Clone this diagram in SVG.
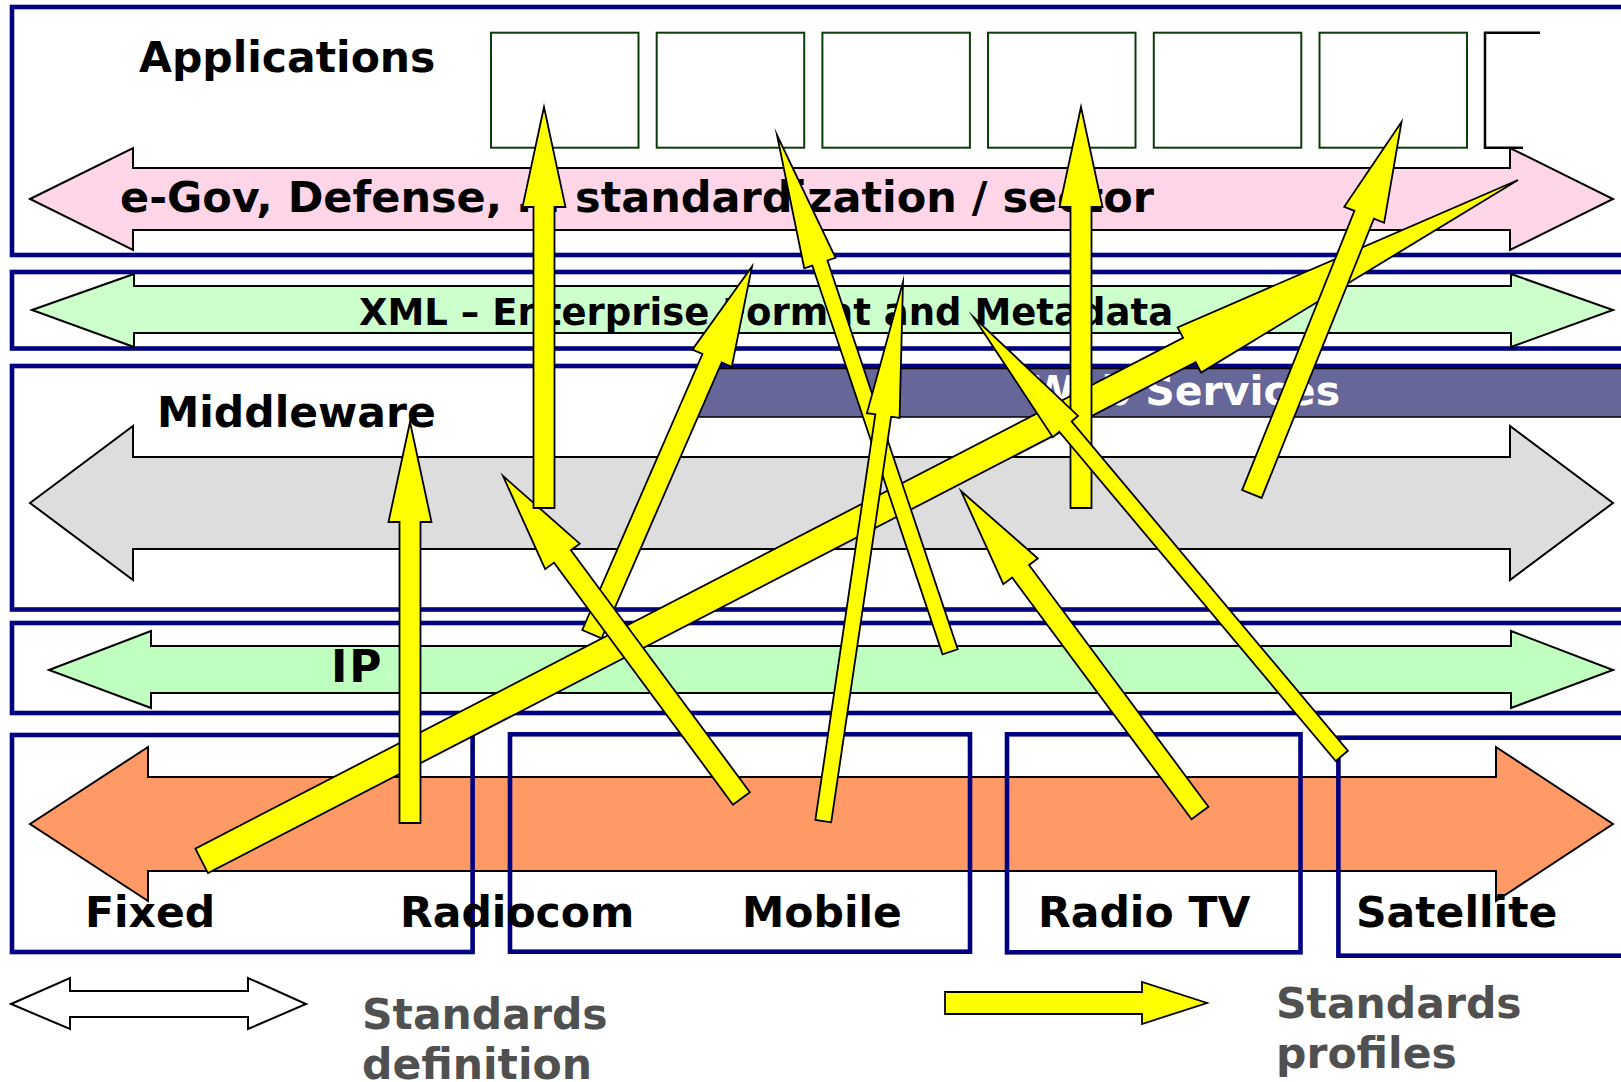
<svg xmlns="http://www.w3.org/2000/svg" xmlns:xlink="http://www.w3.org/1999/xlink" width="1621" height="1082" viewBox="0 0 1621 1082">
  <defs>
    <style>
      .layer { fill: none; stroke: #000080; stroke-width: 4.6; }
      .app { fill: none; stroke: #0b3d0b; stroke-width: 2; }
      .band { stroke: #000; stroke-width: 2; stroke-linejoin: miter; }
      .label { font-family: "DejaVu Sans", Verdana, sans-serif; font-weight: bold; font-size: 42.5px; fill: #000; }
      .legend { fill: #505050; }
      .profile { fill: #ffff00; stroke: #000; stroke-width: 1.8; stroke-linejoin: miter; stroke-miterlimit: 10; }
    </style>
    <!-- block arrows, tip at origin, pointing along +x -->
    <polygon id="arrow-std" points="0,0 -100,-21.5 -100,-10.5 -401,-10.5 -401,10.5 -100,10.5 -100,21.5"/>
    <polygon id="arrow-long" points="0,0 -135,-16.5 -135,-8 -545,-8 -545,8 -135,8 -135,16.5"/>
  </defs>

  <rect width="1621" height="1082" fill="#fff"/>

  <!-- Applications layer -->
  <g id="applications">
    <rect class="layer" x="12" y="7" width="1640" height="248"/>
    <text class="label" x="139" y="72">Applications</text>
    <g id="app-slots">
      <rect class="app" x="491" y="32.7" width="147.5" height="115"/>
      <rect class="app" x="656.7" y="32.7" width="147.5" height="115"/>
      <rect class="app" x="822.4" y="32.7" width="147.5" height="115"/>
      <rect class="app" x="988" y="32.7" width="147.5" height="115"/>
      <rect class="app" x="1153.8" y="32.7" width="147.5" height="115"/>
      <rect class="app" x="1319.5" y="32.7" width="147.5" height="115"/>
      <path d="M1540,32.7 H1485 V147.7 H1523" fill="none" stroke="#000" stroke-width="2.5"/>
    </g>
    <polygon class="band" fill="#ffd5e8" points="30,199 133,148 133,168 1510,168 1510,148 1613,199 1510,250 1510,230 133,230 133,250"/>
    <text class="label" x="120" y="212" style="font-size:43px">e-Gov, Defense, … standardization / sector</text>
  </g>

  <!-- XML layer -->
  <g id="xml">
    <rect class="layer" x="12" y="272" width="1640" height="76.5"/>
    <polygon class="band" fill="#ccffcc" points="32,310 134,274 134,286 1511,286 1511,274 1613,310 1511,347 1511,333 134,333 134,347"/>
    <text class="label" x="359" y="325" style="font-size:37px">XML – Enterprise Format and Metadata</text>
  </g>

  <!-- Middleware layer -->
  <g id="middleware">
    <rect class="layer" x="12" y="366" width="1640" height="243.5"/>
    <rect x="697" y="368.5" width="960" height="48.5" fill="#666699" stroke="#000" stroke-width="1.5"/>
    <text class="label" x="1030" y="405" style="font-size:41px;fill:#fff">Web Services</text>
    <text class="label" x="157" y="427">Middleware</text>
    <polygon class="band" fill="#dddddd" points="30,503 133,426 133,457 1510,457 1510,426 1613,503 1510,580 1510,549 133,549 133,580"/>
  </g>

  <!-- IP layer -->
  <g id="ip">
    <rect class="layer" x="12" y="623" width="1640" height="90"/>
    <polygon class="band" fill="#bfffbf" points="49,670 151,631 151,646 1511,646 1511,631 1613,670 1511,708 1511,693 151,693 151,708"/>
    <text class="label" x="331" y="682" style="font-size:44px;letter-spacing:2px">IP</text>
  </g>

  <!-- Access networks -->
  <g id="access">
    <polygon class="band" fill="#ff9966" points="30,824 148,747 148,777 1496,777 1496,747 1613,824 1496,901 1496,871 148,871 148,901"/>
    <g id="fixed-radiocom">
      <rect class="layer" x="12" y="735" width="460.6" height="217"/>
    </g>
    <g id="mobile">
      <rect class="layer" x="510" y="734.3" width="460" height="217.4"/>
    </g>
    <g id="radio-tv">
      <rect class="layer" x="1007" y="734.3" width="293.5" height="218"/>
    </g>
    <g id="satellite">
      <rect class="layer" x="1338.4" y="737.7" width="320" height="218"/>
    </g>
    <text class="label" x="85" y="927">Fixed</text>
    <text class="label" x="400" y="927">Radiocom</text>
    <text class="label" x="742" y="927">Mobile</text>
    <text class="label" x="1038" y="927">Radio TV</text>
    <text class="label" x="1356" y="927">Satellite</text>
  </g>

  <!-- Legend -->
  <g id="legend-definition">
    <polygon class="band" fill="#fff" points="11,1004 70,978 70,991 248,991 248,978 306,1004 248,1029 248,1017 70,1017 70,1029"/>
    <text class="label legend" x="362" y="1029">Standards</text>
    <text class="label legend" x="362" y="1079">definition</text>
  </g>
  <g id="legend-profiles">
    <polygon class="profile" points="945,992 1142,992 1142,982 1207,1003 1142,1024 1142,1014 945,1014"/>
    <text class="label legend" x="1276" y="1018">Standards</text>
    <text class="label legend" x="1276" y="1068">profiles</text>
  </g>

  <!-- Standards profiles crossing the layers -->
  <g id="profiles">
    <polygon class="profile" points="0,0 -370,-25.5 -370,-13.75 -1482,-13.75 -1482,13.75 -370,13.75 -370,25.5" transform="translate(1518,180) rotate(-27.35)"/>
    <use class="profile" xlink:href="#arrow-std" transform="translate(410,422) rotate(-90)"/>
    <use class="profile" xlink:href="#arrow-std" transform="translate(752,266.5) rotate(-66.47)"/>
    <use class="profile" xlink:href="#arrow-std" transform="translate(503,476) rotate(-126.48)"/>
    <use class="profile" xlink:href="#arrow-long" transform="translate(777,135) rotate(-108.52)"/>
    <use class="profile" xlink:href="#arrow-long" transform="translate(903,282) rotate(-81.59)"/>
    <use class="profile" xlink:href="#arrow-std" transform="translate(1081,107) rotate(-90)"/>
    <polygon class="profile" points="0,0 -143,-16.5 -143,-8 -573,-8 -573,8 -143,8 -143,16.5" transform="translate(973.5,317) rotate(-130)"/>
    <use class="profile" xlink:href="#arrow-std" transform="translate(544,107) rotate(-90)"/>
    <use class="profile" xlink:href="#arrow-std" transform="translate(961,491) rotate(-126.58)"/>
    <use class="profile" xlink:href="#arrow-std" transform="translate(1401.5,122) rotate(-68.09)"/>
  </g>
</svg>
